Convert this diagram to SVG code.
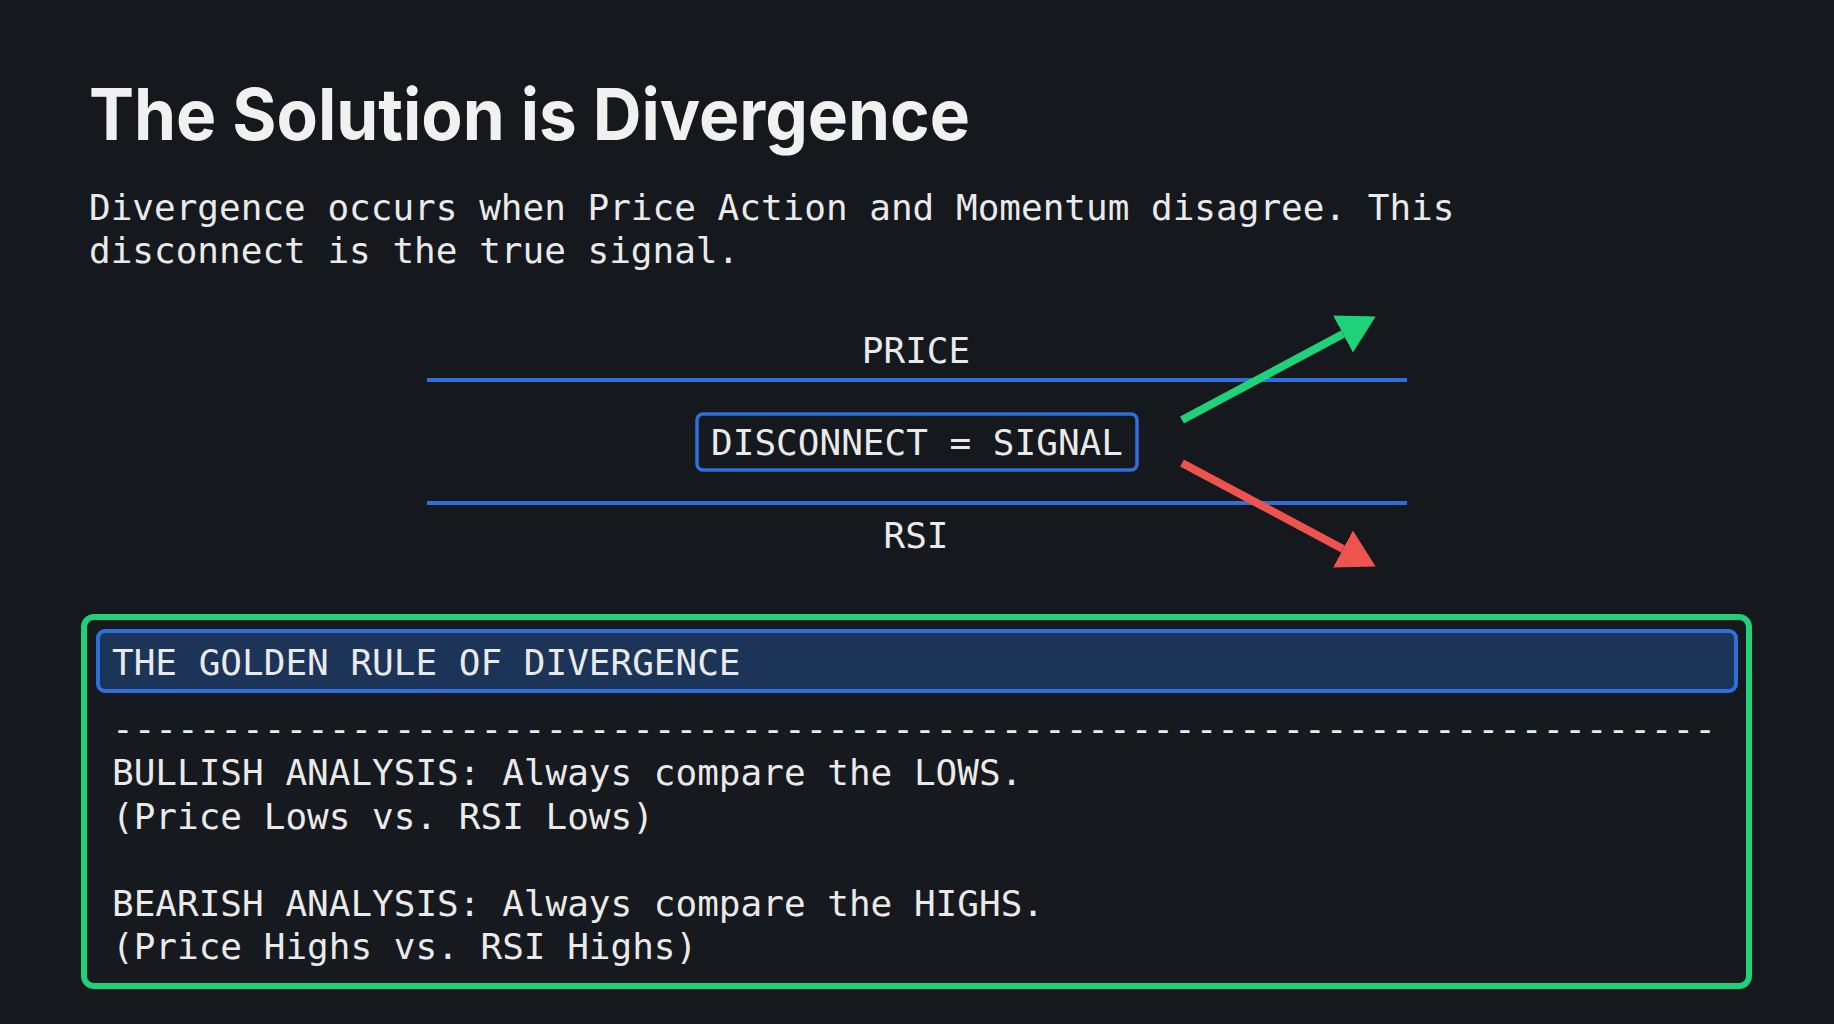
<svg xmlns="http://www.w3.org/2000/svg" width="1834" height="1024" viewBox="0 0 1834 1024">
  <style>
    .mono { font-family: "DejaVu Sans Mono", "Liberation Mono", monospace; font-size: 36px; fill: #eaeaea; }
    .title { font-family: Inter, "Liberation Sans", sans-serif; font-weight: 700; font-size: 71px; fill: #f1f1f1; }
    .band { stroke: #2f6fdb; stroke-width: 4; }
  </style>
  <defs>
    <marker id="headGreen" markerUnits="userSpaceOnUse" viewBox="0 -22 38 44" refX="0" refY="0" markerWidth="38" markerHeight="44" orient="auto">
      <path d="M0,-21 L37,0 L0,21 Z" fill="#1fd27a"/>
    </marker>
    <marker id="headRed" markerUnits="userSpaceOnUse" viewBox="0 -22 38 44" refX="0" refY="0" markerWidth="38" markerHeight="44" orient="auto">
      <path d="M0,-21 L37,0 L0,21 Z" fill="#ef5350"/>
    </marker>
  </defs>
  <rect x="0" y="0" width="1834" height="1024" fill="#15181c"/>

  <g id="title">
    <text class="title" x="89" y="140" textLength="881" lengthAdjust="spacingAndGlyphs">The Solution is Divergence</text>
  </g>
  <g id="subtitle">
    <text class="mono" x="89" y="220">Divergence occurs when Price Action and Momentum disagree. This</text>
    <text class="mono" x="89" y="263">disconnect is the true signal.</text>
  </g>

  <g id="price">
    <text class="mono" x="916" y="363" text-anchor="middle">PRICE</text>
    <line class="band" x1="427" y1="380" x2="1407" y2="380"/>
  </g>
  <g id="rsi">
    <line class="band" x1="427" y1="503" x2="1407" y2="503"/>
    <text class="mono" x="916" y="548" text-anchor="middle">RSI</text>
  </g>
  <g id="signal">
    <rect x="697" y="414" width="440" height="56" rx="6" fill="#15181c" stroke="#2f6fdb" stroke-width="3.5"/>
    <text class="mono" x="917" y="455" text-anchor="middle">DISCONNECT = SIGNAL</text>
  </g>

  <g id="connectors">
    <line x1="1182" y1="420" x2="1343" y2="334" stroke="#1fd27a" stroke-width="8" marker-end="url(#headGreen)"/>
    <line x1="1182" y1="463" x2="1343" y2="549" stroke="#ef5350" stroke-width="8" marker-end="url(#headRed)"/>
  </g>

  <g id="golden-rule">
    <rect x="84" y="617" width="1665" height="369" rx="10" fill="#16191d" stroke="#1fd27a" stroke-width="6"/>
    <rect x="98" y="631" width="1638" height="60" rx="7" fill="#1c3458" stroke="#2f6fdb" stroke-width="4"/>
    <text class="mono" x="112" y="675">THE GOLDEN RULE OF DIVERGENCE</text>
    <text class="mono" x="112" y="741">--------------------------------------------------------------------------</text>
    <text class="mono" x="112" y="785">BULLISH ANALYSIS: Always compare the LOWS.</text>
    <text class="mono" x="112" y="829">(Price Lows vs. RSI Lows)</text>
    <text class="mono" x="112" y="916">BEARISH ANALYSIS: Always compare the HIGHS.</text>
    <text class="mono" x="112" y="959">(Price Highs vs. RSI Highs)</text>
  </g>
</svg>
